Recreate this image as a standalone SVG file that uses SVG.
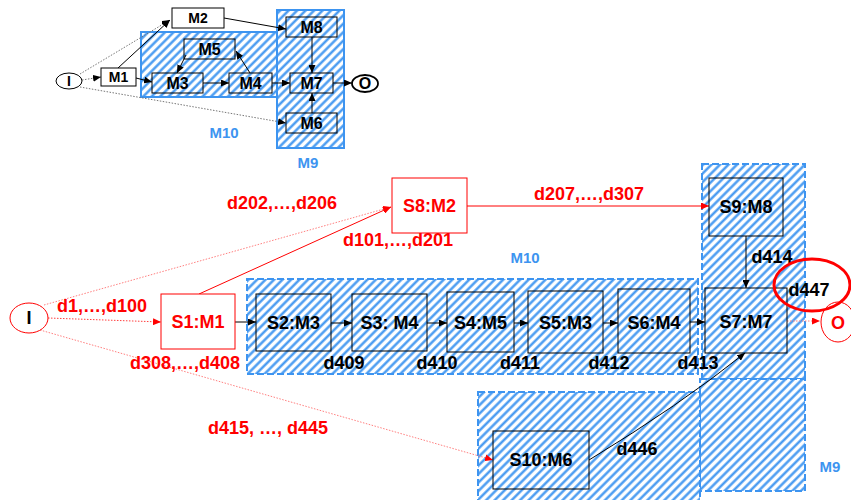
<svg xmlns="http://www.w3.org/2000/svg" width="851" height="500" viewBox="0 0 851 500">
<defs>
<pattern id="hatch" width="6" height="6" patternUnits="userSpaceOnUse" patternTransform="rotate(45)">
<rect width="6" height="6" fill="#ffffff"/>
<line x1="1.5" y1="0" x2="1.5" y2="6" stroke="#3d94f0" stroke-width="2.3"/>
</pattern>
<marker id="ak" markerUnits="userSpaceOnUse" markerWidth="8" markerHeight="7" refX="8" refY="3.5" orient="auto"><path d="M0,0 L8,3.5 L0,7 z" fill="#000"/></marker>
<marker id="ar" markerUnits="userSpaceOnUse" markerWidth="8" markerHeight="7" refX="8" refY="3.5" orient="auto"><path d="M0,0 L8,3.5 L0,7 z" fill="#ff0000"/></marker>
<style>
text{font-family:"Liberation Sans",Arial,sans-serif;font-weight:bold;text-anchor:middle}
.t14{font-size:14px;fill:#000}
.t16{font-size:16px;fill:#000}
.t18{font-size:18px;fill:#000}
.red{fill:#ff0000}
.blue{fill:#3d94f0;font-size:15px}
.box{fill:#fff;stroke:#000;stroke-width:1}
.hbox{fill:none;stroke:#000;stroke-width:1}
.rbox{fill:#fff;stroke:#ff0000;stroke-width:1}
.regA{fill:url(#hatch);stroke:#3d94f0;stroke-width:2}
.regB{fill:url(#hatch);stroke:#3d94f0;stroke-width:2;stroke-dasharray:7 3}
.c{fill:none;stroke:#000;stroke-width:1}
.cd{fill:none;stroke:#777;stroke-width:1;stroke-dasharray:1.5 1.5}
.cr{fill:none;stroke:#ff0000;stroke-width:1}
.crd{fill:none;stroke:#ff8080;stroke-width:1;stroke-dasharray:1.5 1.5}
</style>
</defs>
<rect width="851" height="500" fill="#fff"/>

<!-- regions top -->
<g id="regions-top">
<rect class="regA" x="141" y="32" width="137" height="65"/>
<rect class="regA" x="277" y="10" width="67" height="138"/>
<text class="blue" x="224" y="138" text-anchor="middle">M10</text>
<text class="blue" x="308" y="168">M9</text>
</g>

<!-- regions bottom -->
<g id="regions-bottom">
<rect class="regB" x="247" y="279" width="451" height="95"/>
<rect class="regB" x="702" y="164" width="103" height="215"/>
<rect class="regB" x="700" y="379" width="105" height="112"/>
<rect class="regB" x="478" y="392" width="222" height="110"/>
<text class="blue" x="525" y="263">M10</text>
<text class="blue" x="830" y="472">M9</text>
</g>

<!-- connectors -->
<g id="connectors">
<line class="cd" x1="82" y1="80" x2="101" y2="77" marker-end="url(#ak)"/>
<line class="cd" x1="80" y1="74" x2="170" y2="20" marker-end="url(#ak)"/>
<line class="c" x1="118" y1="68" x2="170" y2="20" marker-end="url(#ak)"/>
<line class="cd" x1="80" y1="87" x2="286" y2="123" marker-end="url(#ak)"/>
<line class="c" x1="136" y1="78" x2="152" y2="82" marker-end="url(#ak)"/>
<line class="c" x1="203" y1="83" x2="229" y2="83" marker-end="url(#ak)"/>
<line class="c" x1="250" y1="73" x2="236" y2="51" marker-end="url(#ak)"/>
<line class="c" x1="186" y1="55" x2="177" y2="73" marker-end="url(#ak)"/>
<line class="c" x1="272" y1="83" x2="290" y2="83" marker-end="url(#ak)"/>
<line class="c" x1="224" y1="18" x2="286" y2="29" marker-end="url(#ak)"/>
<line class="c" x1="312" y1="37" x2="312" y2="73" marker-end="url(#ak)"/>
<line class="c" x1="312" y1="113" x2="312" y2="93" marker-end="url(#ak)"/>
<line class="c" x1="333" y1="83" x2="352" y2="83" marker-end="url(#ak)"/>

<line class="crd" x1="48" y1="318" x2="161" y2="322" marker-end="url(#ar)" style="stroke:#ff4040"/>
<line class="crd" x1="44" y1="305" x2="391" y2="207" marker-end="url(#ar)"/>
<line class="cr" x1="199" y1="294" x2="391" y2="207" marker-end="url(#ar)"/>
<line class="crd" x1="40" y1="330" x2="493" y2="460" marker-end="url(#ar)"/>
<line class="c" x1="235" y1="322" x2="256" y2="322" marker-end="url(#ak)"/>
<line class="c" x1="331" y1="323" x2="352" y2="323" marker-end="url(#ak)"/>
<line class="c" x1="427" y1="323" x2="447" y2="323" marker-end="url(#ak)"/>
<line class="c" x1="514" y1="323" x2="528" y2="323" marker-end="url(#ak)"/>
<line class="c" x1="603" y1="323" x2="618" y2="323" marker-end="url(#ak)"/>
<line class="c" x1="690" y1="322" x2="705" y2="322" marker-end="url(#ak)"/>
<line class="cr" x1="467" y1="206" x2="709" y2="206" marker-end="url(#ar)"/>
<line class="c" x1="746" y1="236" x2="746" y2="288" marker-end="url(#ak)"/>
<path class="c" d="M589,460 Q680,405 745,353" marker-end="url(#ak)"/>
<line class="crd" x1="787" y1="321" x2="820" y2="321" marker-end="url(#ar)"/>
</g>

<!-- top nodes -->
<g id="tI"><ellipse cx="69" cy="81" rx="13" ry="8" fill="#fff" stroke="#000" stroke-width="1"/><text class="t14" x="69" y="86">I</text></g>
<g id="tM1"><rect class="box" x="101" y="68" width="35" height="18"/><text class="t14" x="118.5" y="82">M1</text></g>
<g id="tM2"><rect class="box" x="172" y="8" width="52" height="20"/><text class="t14" x="198" y="23">M2</text></g>
<g id="tM5"><rect class="hbox" x="184" y="39" width="51" height="20"/><text class="t16" x="209.5" y="55">M5</text></g>
<g id="tM3"><rect class="hbox" x="152" y="73" width="51" height="20"/><text class="t16" x="177.5" y="89">M3</text></g>
<g id="tM4"><rect class="hbox" x="229" y="73" width="43" height="20"/><text class="t16" x="250.5" y="89">M4</text></g>
<g id="tM8"><rect class="hbox" x="286" y="17" width="51" height="20"/><text class="t16" x="311.5" y="33">M8</text></g>
<g id="tM7"><rect class="hbox" x="290" y="73" width="43" height="20"/><text class="t16" x="311.5" y="89">M7</text></g>
<g id="tM6"><rect class="hbox" x="286" y="113" width="51" height="20"/><text class="t16" x="311.5" y="129">M6</text></g>
<g id="tO"><ellipse cx="365" cy="83.5" rx="13" ry="8.5" fill="#fff" stroke="#000" stroke-width="1.8"/><text class="t16" x="365" y="89">O</text></g>

<!-- bottom nodes -->
<g id="bI"><ellipse cx="29" cy="318" rx="19" ry="15" fill="#fff" stroke="#ff0000" stroke-width="1"/><text class="t18" x="29" y="324">I</text></g>
<g id="S1"><rect class="rbox" x="161" y="294" width="74" height="55"/><text class="t18 red" x="198" y="328">S1:M1</text></g>
<g id="S8"><rect class="rbox" x="392" y="178" width="75" height="55"/><text class="t18 red" x="429.5" y="212">S8:M2</text></g>
<g id="S2"><rect class="hbox" x="256" y="294" width="75" height="57"/><text class="t18" x="293.5" y="329">S2:M3</text></g>
<g id="S3"><rect class="hbox" x="352" y="294" width="75" height="57"/><text class="t18" x="389.5" y="329">S3: M4</text></g>
<g id="S4"><rect class="hbox" x="447" y="292" width="67" height="60"/><text class="t18" x="480.5" y="329">S4:M5</text></g>
<g id="S5"><rect class="hbox" x="528" y="291" width="75" height="62"/><text class="t18" x="565.5" y="329">S5:M3</text></g>
<g id="S6"><rect class="hbox" x="618" y="289" width="72" height="64"/><text class="t18" x="654" y="329">S6:M4</text></g>
<g id="S7"><rect class="hbox" x="705" y="288" width="82" height="65"/><text class="t18" x="746" y="328">S7:M7</text></g>
<g id="S9"><rect class="hbox" x="709" y="178" width="74" height="58"/><text class="t18" x="746" y="213">S9:M8</text></g>
<g id="S10"><rect class="hbox" x="493" y="431" width="96" height="58"/><text class="t18" x="541" y="466">S10:M6</text></g>
<g id="bO"><ellipse cx="838" cy="322" rx="17" ry="20" fill="#fff" stroke="#ff0000" stroke-width="1"/><text class="t18 red" x="838" y="329">O</text></g>

<!-- labels -->
<g id="labels">
<text class="t18 red" x="282" y="209">d202,…,d206</text>
<text class="t18 red" x="398" y="246">d101,…,d201</text>
<text class="t18 red" x="102" y="312">d1,…,d100</text>
<text class="t18 red" x="185" y="369">d308,…,d408</text>
<text class="t18 red" x="589" y="200">d207,…,d307</text>
<text class="t18 red" x="268" y="434">d415, …, d445</text>
<text class="t18" x="344" y="369">d409</text>
<text class="t18" x="437" y="369">d410</text>
<text class="t18" x="520" y="369">d411</text>
<text class="t18" x="609" y="369">d412</text>
<text class="t18" x="698" y="369">d413</text>
<text class="t18" x="772" y="263">d414</text>
<text class="t18" x="809" y="296">d447</text>
<text class="t18" x="637" y="455">d446</text>
</g>
<ellipse id="highlight" cx="812" cy="285" rx="38" ry="26" fill="none" stroke="#ff0000" stroke-width="3"/>
</svg>
